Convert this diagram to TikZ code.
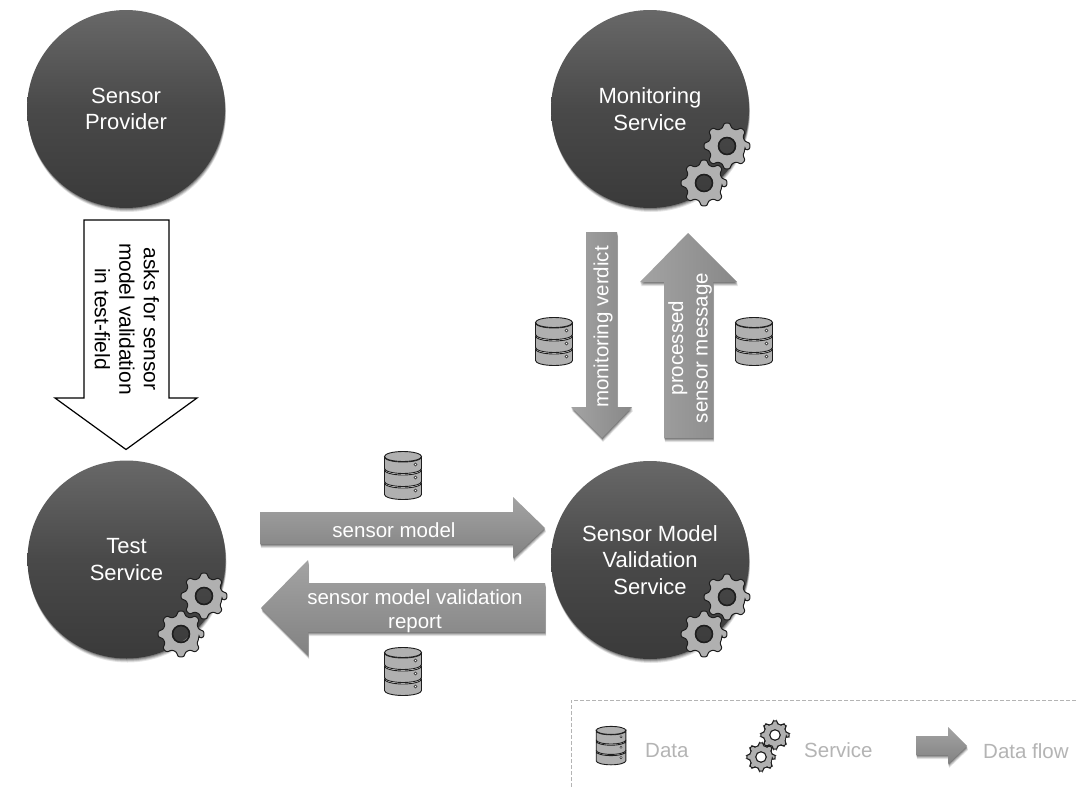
\documentclass[tikz,border=0pt]{standalone}
\usepackage{fontspec}
\setmainfont{Liberation Sans}
\newcommand{\gearcode}[2]{%
    \begin{scope}[x=1pt,y=1pt]
      \fill[gy,draw=edge,line width=#1,rounded corners=2.2pt,even odd rule]
        (-13:18.5) \foreach \a in {0,45,...,315}{ -- (\a-13:18.5) -- (\a-8:23.2) -- (\a+8:23.2) -- (\a+13:18.5)} -- cycle
        (0,0) circle[radius=8.5];
      \draw[edge,line width=#2] (0,0) circle[radius=8.5];
    \end{scope}}
\tikzset{
  x=1pt,y=-1pt,
  softshadow/.style={
    preaction={fill=black,fill opacity=.10,transform canvas={xshift=1pt,yshift=-4pt}},
    preaction={fill=black,fill opacity=.14,transform canvas={xshift=.8pt,yshift=-3pt}},
    preaction={fill=black,fill opacity=.18,transform canvas={xshift=.5pt,yshift=-2pt}},
    preaction={fill=black,fill opacity=.22,transform canvas={xshift=.3pt,yshift=-1pt}}},
  actor/.style={circle,minimum size=198pt,inner sep=0pt,align=center,text=white,
    top color=c5,bottom color=c3,middle color=c4,softshadow,
    font=\fontsize{22}{26.5}\selectfont},
  flowh/.style={top color=ah,bottom color=ad,softshadow},
  flowv/.style={left color=ah,right color=av,softshadow},
  flowtext/.style={text=white,align=center,font=\fontsize{20.5}{24.5}\selectfont,inner sep=0pt},
  blacktext/.style={text=black,align=center,font=\fontsize{21}{24.5}\selectfont,inner sep=0pt},
  legendtext/.style={text=lg,font=\fontsize{20.5}{24}\selectfont,inner sep=0pt},
  gear/.pic={\gearcode{1pt}{1.5pt}},
  smallgear/.pic={\gearcode{.7pt}{.9pt}},
  database/.pic={
    \begin{scope}[x=1pt,y=1pt]
      \foreach \t in {-7,6,19}{
        \path[fill=gy,draw=edge,line width=.9pt]
          (-18.5,\t) -- (-18.5,\t-11.5) arc[start angle=180,end angle=360,x radius=18.5,y radius=5]
          -- (18.5,\t) arc[start angle=0,end angle=-180,x radius=18.5,y radius=5] -- cycle;
      }
      \path[fill=gy,draw=edge,line width=.9pt] (0,19.5) ellipse[x radius=18.5,y radius=5];
      \foreach \t in {11.5,-1.5,-14.5}{
        \fill[edge] (12.5,\t) circle[radius=1.8];
        \fill[white] (12.5,\t) circle[radius=.8];
      }
    \end{scope}
  },
}
\definecolor{c5}{HTML}{686868}
\definecolor{c4}{HTML}{494949}
\definecolor{c3}{HTML}{3A3A3A}
\definecolor{ah}{HTML}{A3A3A3}
\definecolor{ad}{HTML}{828282}
\definecolor{av}{HTML}{888888}
\definecolor{gy}{HTML}{B0B0B0}
\definecolor{edge}{HTML}{1E1E1E}
\definecolor{lg}{HTML}{B4B4B4}
\begin{document}
\begin{tikzpicture}
\useasboundingbox (0,0) rectangle (1076,787);
\fill[white] (0,0) rectangle (1076,787);
% actors
\node[actor] (provider) at (126,109) {Sensor\\Provider};
\node[actor] (monitor) at (650,109) {Monitoring\\Service};
\node[actor] (test) at (126.5,559.5) {Test\\Service};
\node[actor] (smv) at (650,560) {Sensor Model\\Validation\\Service};
% gears
\pic at (727,146) {gear};
\pic at (704,183) {gear};
\pic at (204,596) {gear};
\pic at (181,634) {gear};
\pic at (727,597) {gear};
\pic at (704,634) {gear};
% white arrow
\draw[line width=1.2pt,fill=white,draw=black,line join=miter]
  (84,220) -- (169,220) -- (169,398) -- (197,398) -- (126,449.5) -- (55,398) -- (84,398) -- cycle;
\node[blacktext,rotate=-90] (asks) at (127,319) {asks for sensor\\model validation\\in test-field};
% block arrows
\path[flowv] (586,232) -- (617,232) -- (617,407) -- (632,407) -- (602,438) -- (571,407) -- (586,407) -- cycle;
\node[flowtext,rotate=90] (verdict) at (603,327) {monitoring verdict};
\path[flowv] (688,233) -- (737,282) -- (713,282) -- (713,438) -- (664,438) -- (664,282) -- (640,282) -- cycle;
\node[flowtext,rotate=90] (processed) at (690,348) {processed\\sensor message};
\path[flowh] (260,512) -- (513,512) -- (513,497) -- (545,528) -- (513,558) -- (513,544) -- (260,544) -- cycle;
\node[flowtext] (model) at (394,530) {sensor model};
\path[flowh] (261,608) -- (308,560) -- (308,583) -- (545,583) -- (545,632) -- (308,632) -- (308,655) -- cycle;
\node[flowtext] (report) at (415,611) {sensor model validation\\report};
% data icons
\pic at (554,342) {database};
\pic at (754,342) {database};
\pic at (403,476) {database};
\pic at (403,672) {database};
% legend
\coordinate (lgtl) at (571,700);
\coordinate (lgtr) at (1076,700);
\coordinate (lgbl) at (571,787);
\draw[lg,dash pattern=on 4pt off 2pt,line width=.9pt] (lgtr) -- (lgtl) -- (lgbl);
\pic[scale=.8] at (611,746) {database};
\node[legendtext,anchor=west] (ldata) at (645,751) {Data};
\pic[scale=.62] at (775,735) {smallgear};
\pic[scale=.62] at (761,757) {smallgear};
\node[legendtext,anchor=west] (lservice) at (804,750) {Service};
\path[flowh] (916,736) -- (948,736) -- (948,727) -- (967,746) -- (948,764) -- (948,755) -- (916,755) -- cycle;
\node[legendtext,anchor=west] (lflow) at (983,751) {Data flow};
\end{tikzpicture}
\end{document}
